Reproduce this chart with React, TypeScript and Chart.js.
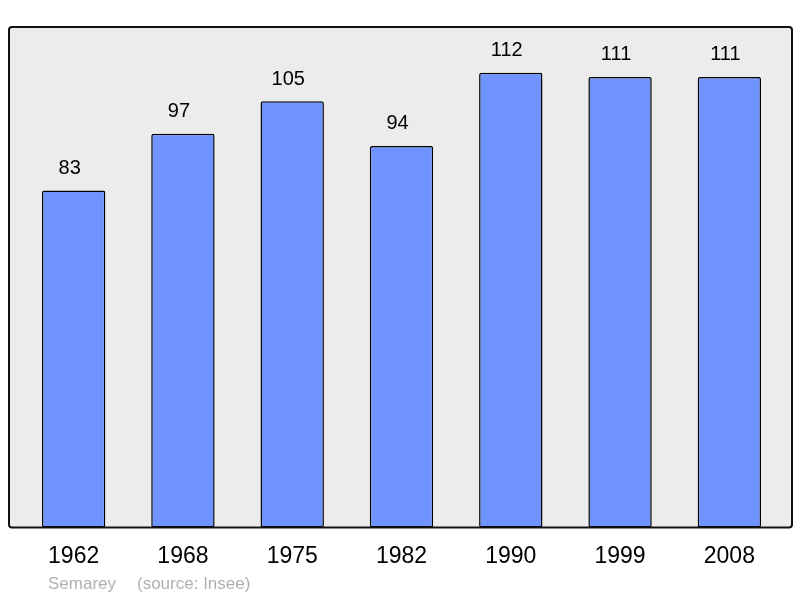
import React, { useEffect, useRef } from "react";
import { Chart, registerables } from "chart.js";

Chart.register(...registerables);

const years = ["1962", "1968", "1975", "1982", "1990", "1999", "2008"];
const population = [83, 97, 105, 94, 112, 111, 111];
const yMax = 123.3;
const footer = ["Semarey", "(source: Insee)"];

const FONT = "'Liberation Sans', Arial, sans-serif";

const framePlugin = {
  id: "frame",
  beforeDraw(chart: any) {
    const { ctx, chartArea } = chart;
    const x0 = chartArea.left - 10;
    const x1 = chartArea.right + 8;
    const y0 = chartArea.top;
    const y1 = chartArea.bottom;
    ctx.save();
    ctx.beginPath();
    (ctx as any).roundRect(x0, y0, x1 - x0, y1 - y0, 3);
    ctx.fillStyle = "#ececec";
    ctx.fill();
    ctx.restore();
  },
  afterDatasetsDraw(chart: any) {
    const { ctx, chartArea } = chart;
    const x0 = chartArea.left - 10;
    const x1 = chartArea.right + 8;
    const y0 = chartArea.top;
    const y1 = chartArea.bottom;
    ctx.save();
    ctx.beginPath();
    (ctx as any).roundRect(x0, y0, x1 - x0, y1 - y0, 3);
    ctx.lineWidth = 2;
    ctx.strokeStyle = "#111";
    ctx.stroke();
    // value labels
    const meta = chart.getDatasetMeta(0);
    ctx.fillStyle = "#000";
    ctx.font = `20px ${FONT}`;
    ctx.textAlign = "center";
    ctx.textBaseline = "middle";
    meta.data.forEach((bar: any, i: number) => {
      ctx.fillText(String(population[i]), bar.x - 4, bar.y - 22);
    });
    // footer
    ctx.fillStyle = "#b0b0b0";
    ctx.font = `17px ${FONT}`;
    ctx.textAlign = "left";
    ctx.fillText(footer[0], 48, 584);
    ctx.fillText(footer[1], 137, 584);
    ctx.restore();
  },
};

export default function App() {
  const ref = useRef<HTMLCanvasElement>(null);
  useEffect(() => {
    if (!ref.current) return;
    const chart = new Chart(ref.current, {
      type: "bar",
      data: {
        labels: years,
        datasets: [
          {
            data: population,
            backgroundColor: "#7094ff",
            borderColor: "#000",
            borderWidth: 1.5,
            borderRadius: 2,
            borderSkipped: false,
            barPercentage: 0.58,
            categoryPercentage: 1,
          },
        ],
      },
      options: {
        animation: false,
        responsive: false,
        maintainAspectRatio: false,
        layout: { padding: { left: 19, right: 16, top: 27, bottom: 21 } },
        plugins: { legend: { display: false }, tooltip: { enabled: false } },
        scales: {
          x: {
            grid: { display: false },
            border: { display: false },
            ticks: {
              color: "#000",
              padding: 7,
              font: { size: 23, family: FONT },
            },
          },
          y: { display: false, min: 0, max: yMax },
        },
      },
      plugins: [framePlugin],
    });
    return () => chart.destroy();
  }, []);
  return (
    <div style={{ position: "fixed", left: 0, top: 0, width: 800, height: 598, background: "#fff" }}>
      <canvas ref={ref} width={800} height={598} />
    </div>
  );
}
